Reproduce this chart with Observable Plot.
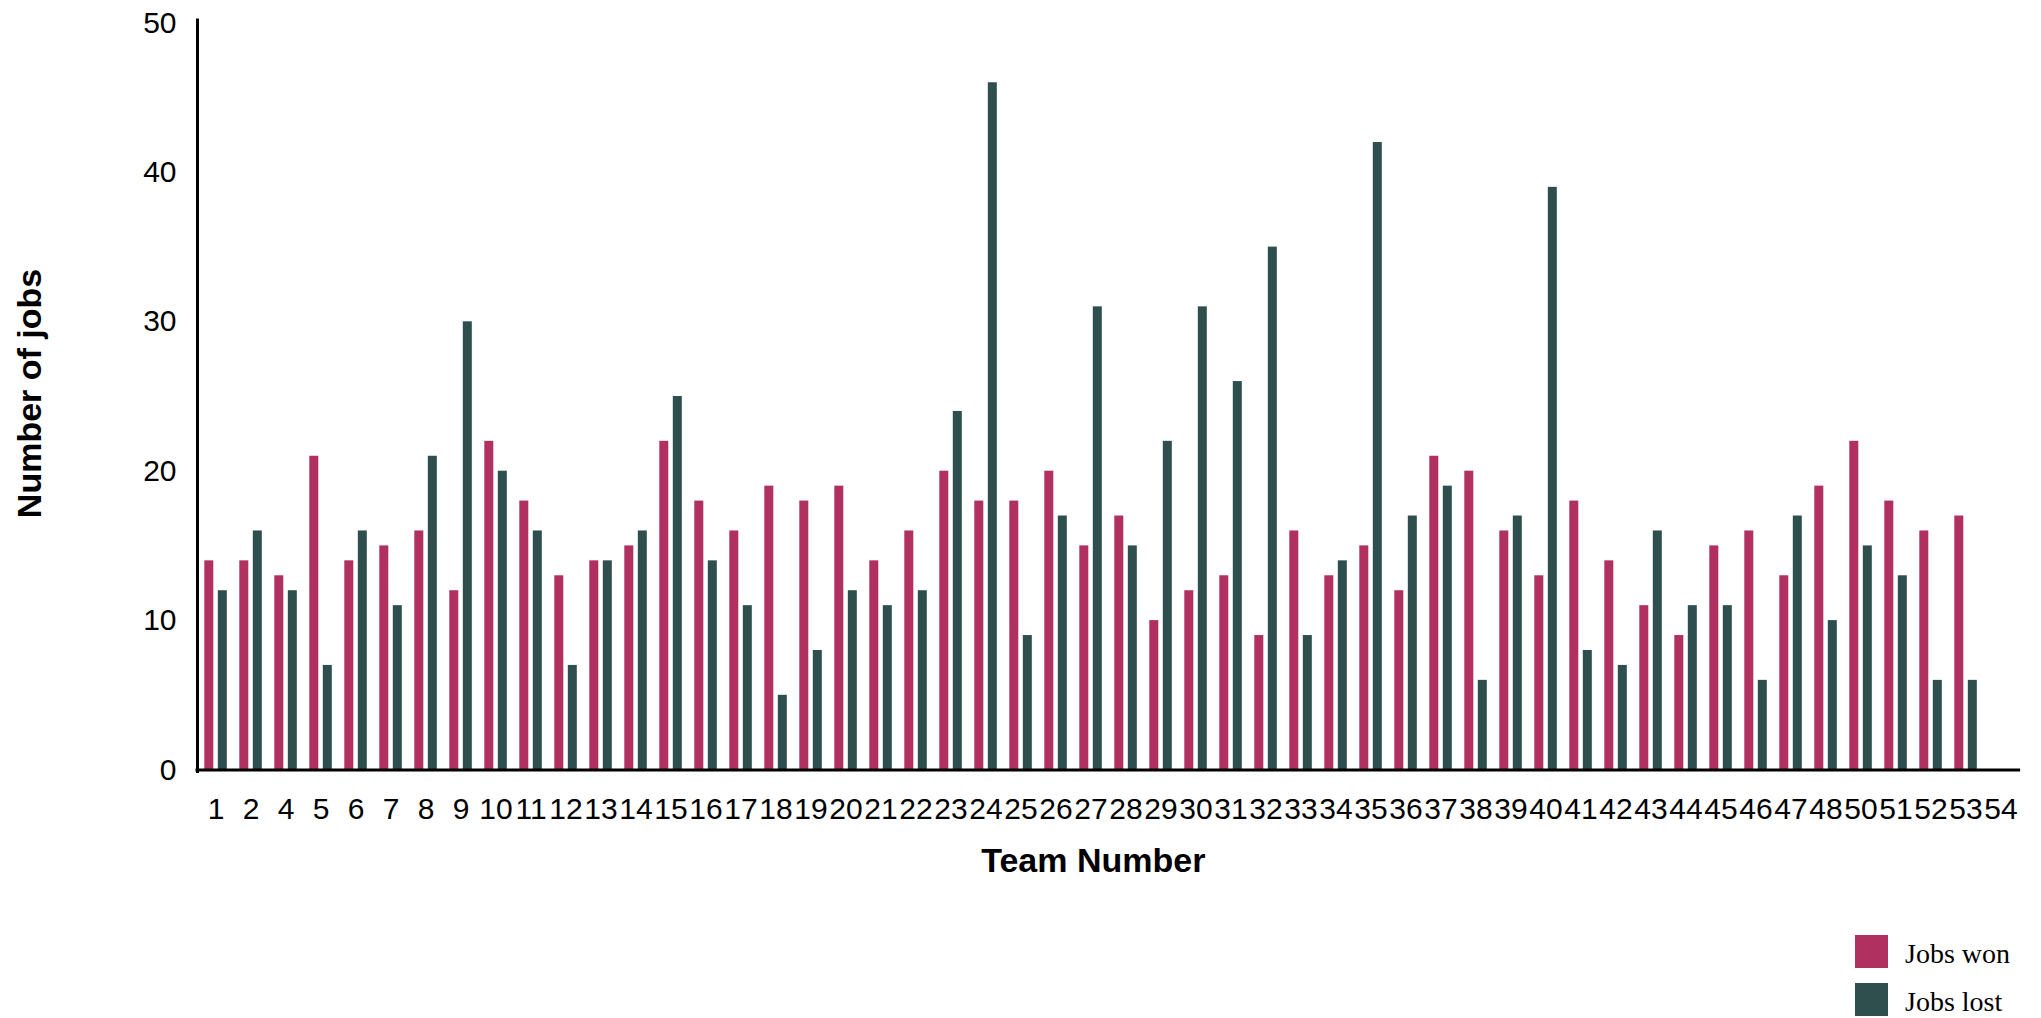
<!DOCTYPE html>
<html>
<head>
<meta charset="utf-8">
<script src="https://cdn.jsdelivr.net/npm/d3@7"></script>
<script src="https://cdn.jsdelivr.net/npm/@observablehq/plot@0.6"></script>
<style>
  html, body { margin: 0; padding: 0; background: #fff; overflow: hidden; }
  #chart svg { display: block; }
  #legend { margin-top: 10px; padding-left: 1855px; font-family: "Liberation Serif", "Times New Roman", serif; font-size: 28px; color: #000; }
  .row { display: flex; align-items: center; height: 33px; margin-bottom: 15px; }
  .sw { width: 33px; height: 33px; }
  .lbl { margin-left: 17px; line-height: 33px; position: relative; top: 2px; }
</style>
</head>
<body>
<div id="chart"></div>
<div id="legend"></div>
<script>
const teams = ["1","2","4","5","6","7","8","9","10","11","12","13","14","15","16","17","18","19","20","21","22","23","24","25","26","27","28","29","30","31","32","33","34","35","36","37","38","39","40","41","42","43","44","45","46","47","48","50","51","52","53","54"];
const jobsWon  = [14,14,13,21,14,15,16,12,22,18,13,14,15,22,18,16,19,18,19,14,16,20,18,18,20,15,17,10,12,13,9,16,13,15,12,21,20,16,13,18,14,11,9,15,16,13,19,22,18,16,17,null];
const jobsLost = [12,16,12,7,16,11,21,30,20,16,7,14,16,25,14,11,5,8,12,11,12,24,46,9,17,31,15,22,31,26,35,9,14,42,17,19,6,17,39,8,7,16,11,11,6,17,10,15,13,6,6,null];
const yTicks = [0,10,20,30,40,50];
const seriesNames = ["Jobs won","Jobs lost"];
const seriesColors = ["#B03060","#2F4F4F"];

const table = teams.map((t, i) => ({team: t, won: jobsWon[i], lost: jobsLost[i]}));

const chart = Plot.plot({
  width: 2041,
  height: 925,
  marginTop: 22.5,
  marginBottom: 155.5,
  marginLeft: 197,
  marginRight: 22.4,
  style: {fontFamily: "'Liberation Sans', Arial, sans-serif", fontSize: "30px", color: "#000", background: "#fff"},
  x: {domain: teams, padding: 0, axis: null},
  y: {domain: [0, 50], axis: null},
  marks: [
    Plot.barY(table, {x: "team", y: "won", fill: seriesColors[0], insetLeft: 6.3, insetRight: 19.7}),
    Plot.barY(table, {x: "team", y: "lost", fill: seriesColors[1], insetLeft: 19.8, insetRight: 6.2}),
    Plot.axisX({tickSize: 0, tickPadding: 27.5, fontSize: 30, label: null}),
    Plot.axisY({ticks: yTicks, tickSize: 0, tickPadding: 21, fontSize: 30, label: null}),
    Plot.ruleY([0], {stroke: "#000", strokeWidth: 3, insetLeft: -1.5, insetRight: -1.5}),
    Plot.frame({anchor: "left", stroke: "#000", strokeWidth: 3, insetTop: -3, insetBottom: -1.5}),
    Plot.text(["Number of jobs"], {text: d => d, frameAnchor: "left", dx: -167, dy: -3, rotate: -90, textAnchor: "middle", fontSize: 34, fontWeight: "bold", fill: "#000"}),
    Plot.text(["Team Number"], {text: d => d, frameAnchor: "bottom", dx: -15, dy: 102, textAnchor: "middle", fontSize: 34, fontWeight: "bold", fill: "#000"})
  ]
});
document.getElementById("chart").appendChild(chart);

const legend = document.getElementById("legend");
seriesNames.forEach((name, i) => {
  const row = document.createElement("div");
  row.className = "row";
  const sw = document.createElement("div");
  sw.className = "sw";
  sw.style.background = seriesColors[i];
  const lb = document.createElement("span");
  lb.className = "lbl";
  lb.textContent = name;
  row.appendChild(sw);
  row.appendChild(lb);
  legend.appendChild(row);
});
</script>
</body>
</html>
